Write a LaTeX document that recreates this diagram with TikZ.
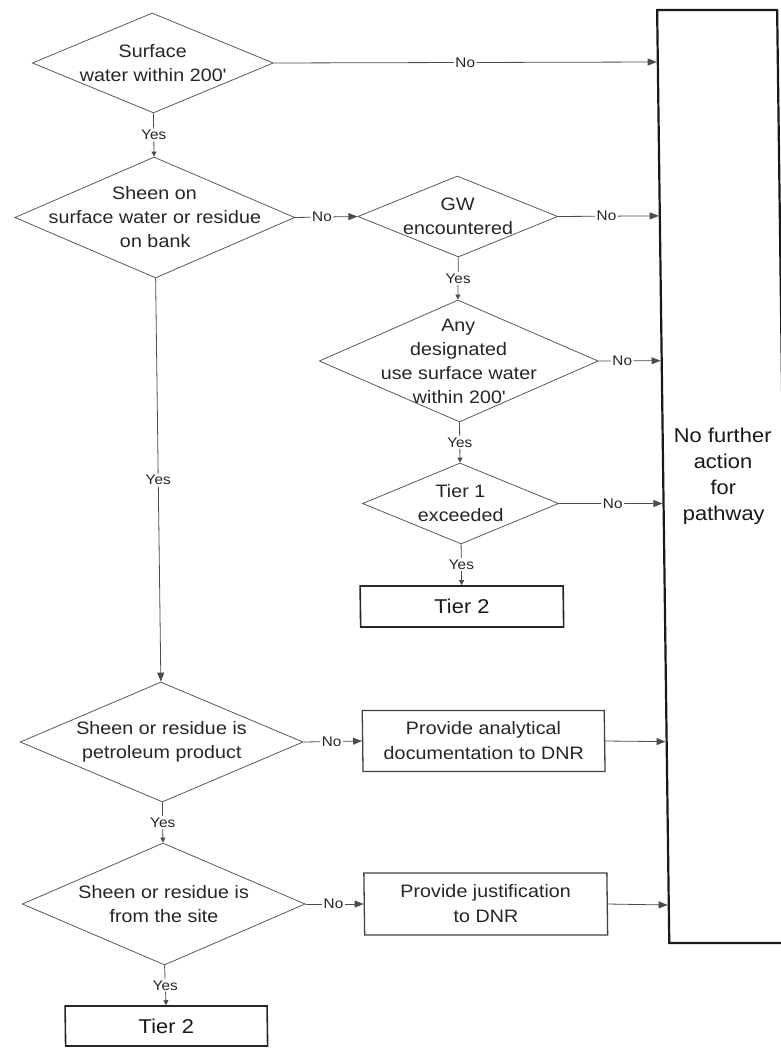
\documentclass[tikz,border=0pt]{standalone}
\usepackage{fontspec}
\setmainfont{Liberation Sans}[FakeStretch=1.1]
\usetikzlibrary{shapes.geometric,arrows.meta,calc}
\begin{document}
\begin{tikzpicture}[x=1pt,y=-1pt,
  dia/.style={diamond, draw=black!65, line width=0.8pt, inner xsep=-80pt, inner ysep=-30pt,
    align=center, font=\fontsize{18}{24}\selectfont, text=black!85},
  rbox/.style={rectangle, draw=black!75, line width=1.3pt, inner sep=0pt, align=center,
    font=\fontsize{18}{25}\selectfont, text=black!85},
  tbox/.style={rectangle, draw=black!85, line width=1.6pt, inner sep=0pt,
    font=\fontsize{20}{24}\selectfont, text=black!90},
  bigbox/.style={rectangle, draw=black!90, line width=2.2pt, inner sep=0pt, align=center,
    font=\fontsize{20}{26}\selectfont, text=black!90},
  lbl/.style={fill=white, inner sep=1.5pt, font=\fontsize{14}{16}\selectfont, text=black!85},
  con/.style={draw=black!70, line width=0.8pt},
  yarr/.style={con, -{Triangle[length=5pt,width=5pt]}},
  narr/.style={con, -{Triangle[length=9pt,width=7pt]}},
]
\useasboundingbox (0,0) rectangle (780,1048);
\begin{scope}[xslant=-0.013, transform shape]
% decision diamonds, left column
\node[dia, minimum width=241, minimum height=100] (d1) at (152,63) {Surface\\water within 200\textquotesingle};
\node[dia, minimum width=280, minimum height=121] (d2) at (152,217.5) {Sheen on\\surface water or residue\\on bank};
\node[dia, minimum width=283, minimum height=120] (d6) at (152,742) {Sheen or residue is\\petroleum product};
\node[dia, minimum width=283, minimum height=122] (d7) at (152,904) {Sheen or residue is\\from the site};
\node[tbox, minimum width=202, minimum height=40] (t2b) at (153,1026) {Tier 2};
% right column
\node[dia, minimum width=200, minimum height=81] (d3) at (455,216.5) {GW\\encountered};
\node[dia, minimum width=279, minimum height=122] (d4) at (454,361) {Any\\designated\\use surface water\\within 200\textquotesingle};
\node[dia, minimum width=196, minimum height=81] (d5) at (454,503.5) {Tier 1\\exceeded};
\node[tbox, minimum width=203, minimum height=41] (t2a) at (454,606.5) {Tier 2};
\node[rbox, minimum width=242, minimum height=61] (pa) at (474,741) {Provide analytical\\documentation to DNR};
\node[rbox, minimum width=243, minimum height=62] (pj) at (474,904) {Provide justification\\to DNR};
% terminal box
\node[bigbox, minimum width=120, minimum height=933] (nf) at (717,476.5) {No further\\action\\for\\pathway};
\coordinate (e1) at ($(nf.north west)!0.0568!(nf.south west)$);
\coordinate (e3) at ($(nf.north west)!0.2213!(nf.south west)$);
\coordinate (e4) at ($(nf.north west)!0.3762!(nf.south west)$);
\coordinate (e5) at ($(nf.north west)!0.5289!(nf.south west)$);
\coordinate (ea) at ($(nf.north west)!0.7835!(nf.south west)$);
\coordinate (ej) at ($(nf.north west)!0.9582!(nf.south west)$);
% Yes connectors
\draw[yarr] (d1.south) -- node[lbl]{Yes} (d2.north);
\draw[narr] (d2.south) -- node[lbl]{Yes} (d6.north);
\draw[yarr] (d6.south) -- node[lbl]{Yes} (d7.north);
\draw[yarr] (d7.south) -- node[lbl]{Yes} (t2b.north);
\draw[yarr] (d3.south) -- node[lbl]{Yes} (d4.north);
\draw[yarr] (d4.south) -- node[lbl]{Yes} (d5.north);
\draw[yarr] (d5.south) -- node[lbl]{Yes} (t2a.north);
% No connectors
\draw[narr] (d1.east) -- node[lbl, pos=0.5]{No} (e1);
\draw[narr] (d2.east) -- node[lbl, pos=0.43]{No} (d3.west);
\draw[narr] (d3.east) -- node[lbl, pos=0.48]{No} (e3);
\draw[narr] (d4.east) -- node[lbl, pos=0.38]{No} (e4);
\draw[narr] (d5.east) -- node[lbl, pos=0.52]{No} (e5);
\draw[narr] (d6.east) -- node[lbl, pos=0.48]{No} (pa.west);
\draw[narr] (d7.east) -- node[lbl, pos=0.48]{No} (pj.west);
\draw[narr] (pa.east) -- (ea);
\draw[narr] (pj.east) -- (ej);
\end{scope}
\end{tikzpicture}
\end{document}
